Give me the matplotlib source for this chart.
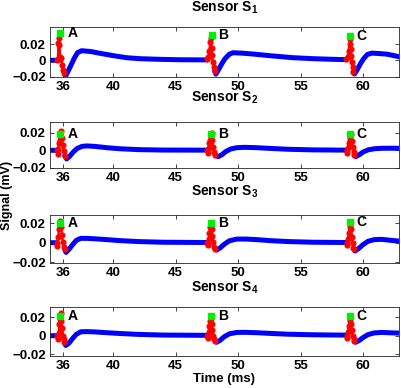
import numpy as np
import matplotlib.pyplot as plt

plt.rcParams['font.family'] = ['Liberation Sans', 'DejaVu Sans']
plt.rcParams['font.weight'] = 'bold'
plt.rcParams['mathtext.fontset'] = 'custom'
plt.rcParams['mathtext.rm'] = 'Liberation Sans:bold'
plt.rcParams['mathtext.bf'] = 'Liberation Sans:bold'

nan = np.nan

# axis setup
TIME_LIM = (34.94, 62.88)
TIME_TICKS = [36, 40, 45, 50, 55, 60]
SIGNAL_TICKS = [-0.02, 0, 0.02]
BEAT_LABELS = ["A", "B", "C"]
LABEL_T = [36.38, 48.41, 59.47]
TITLES = [r"Sensor S$_\mathbf{1}$", r"Sensor S$_\mathbf{2}$",
          r"Sensor S$_\mathbf{3}$", r"Sensor S$_\mathbf{4}$"]
YLIMS = [(-0.0205, 0.0409), (-0.0201, 0.0322), (-0.021, 0.0287), (-0.0217, 0.0307)]

# ---- sensor 1 ----
blue1_t = [34.94, 35.48, nan,
           36.10, 36.18, 36.40, 36.65, 36.90, 37.15, 37.47, 38.20, 38.94, 40.00, 41.07, 42.14, 43.74, 45.34, 47.52, nan,
           48.12, 48.22, 48.45, 48.70, 48.95, 49.30, 49.60, 50.30, 51.20, 52.80, 54.40, 56.00, 57.60, 58.67, nan,
           59.22, 59.32, 59.55, 59.80, 60.05, 60.35, 60.70, 61.30, 61.88, 62.40, 62.88]
blue1_v = [0.0, 0.0, nan,
           -0.016, -0.0198, -0.013, -0.005, 0.003, 0.0095, 0.0118, 0.0108, 0.0086, 0.0057, 0.0032, 0.0020, 0.0012, 0.0007, 0.0005, nan,
           -0.013, -0.017, -0.011, -0.004, 0.002, 0.0075, 0.0093, 0.0088, 0.0077, 0.0053, 0.0032, 0.0020, 0.0012, 0.0008, nan,
           -0.014, -0.0168, -0.011, -0.004, 0.002, 0.0072, 0.0088, 0.0083, 0.0076, 0.0060, 0.0044]
red1_t = [[35.48, 35.58, 35.62, 35.66, 35.70, 35.74, 35.78, 35.84, 35.92, 36.00, 36.10],
          [47.52, 47.62, 47.70, 47.78, 47.84, 47.88, 47.92, 47.98, 48.05, 48.12],
          [58.67, 58.76, 58.84, 58.92, 58.98, 59.02, 59.06, 59.11, 59.16, 59.22]]
red1_v = [[0.0, 0.002, 0.021, 0.027, 0.019, 0.004, 0.001, 0.003, -0.006, -0.012, -0.016],
          [0.001, 0.004, 0.012, 0.022, 0.027, 0.015, 0.006, -0.002, -0.008, -0.013],
          [0.001, 0.004, 0.011, 0.020, 0.026, 0.014, 0.005, -0.002, -0.008, -0.014]]
green1_t = [35.74, 47.87, 58.99]
green1_v = [0.034, 0.031, 0.030]

# ---- sensor 2 ----
blue2_t = [34.94, 35.48, nan,
           36.12, 36.27, 36.50, 36.80, 37.10, 37.50, 37.90, 38.50, 39.50, 40.50, 42.00, 44.00, 47.52, nan,
           48.16, 48.40, 48.70, 49.00, 49.40, 49.90, 50.50, 51.50, 52.50, 54.00, 56.00, 58.68, nan,
           59.30, 59.42, 59.70, 60.00, 60.40, 60.90, 61.50, 62.20, 62.88]
blue2_v = [0.0, 0.0, nan,
           -0.006, -0.0098, -0.007, -0.002, 0.002, 0.0045, 0.005, 0.0045, 0.003, 0.0018, 0.0008, 0.0003, 0.0002, nan,
           -0.005, -0.0072, -0.005, -0.0015, 0.0015, 0.003, 0.0034, 0.003, 0.0022, 0.0012, 0.0005, 0.0002, nan,
           -0.005, -0.0072, -0.005, -0.002, 0.0005, 0.0018, 0.0023, 0.0024, 0.0023]
red2_t = [[35.48, 35.55, 35.60, 35.66, 35.72, 35.78, 35.84, 35.90, 35.96, 36.04, 36.12],
          [47.52, 47.58, 47.64, 47.70, 47.76, 47.82, 47.88, 47.94, 48.00, 48.08, 48.16],
          [58.68, 58.74, 58.80, 58.86, 58.92, 58.98, 59.04, 59.10, 59.16, 59.24, 59.30]]
red2_v = [[0.0, -0.004, 0.002, 0.008, 0.012, 0.016, 0.022, 0.014, 0.006, -0.001, -0.006],
          [0.0, -0.003, 0.003, 0.008, 0.012, 0.016, 0.020, 0.012, 0.004, -0.002, -0.005],
          [0.0, -0.003, 0.003, 0.008, 0.012, 0.015, 0.018, 0.011, 0.004, -0.002, -0.005]]
green2_t = [35.75, 47.82, 58.94]
green2_v = [0.018, 0.019, 0.019]

# ---- sensor 3 ----
blue3_t = [34.94, 35.48, nan,
           36.12, 36.22, 36.45, 36.75, 37.05, 37.40, 37.90, 38.60, 39.50, 40.50, 42.00, 44.00, 47.52, nan,
           48.16, 48.28, 48.55, 48.90, 49.30, 49.90, 50.60, 51.50, 52.50, 54.00, 56.00, 58.68, nan,
           59.28, 59.36, 59.65, 60.00, 60.40, 60.90, 61.50, 62.20, 62.88]
blue3_v = [0.0, 0.0, nan,
           -0.007, -0.010, -0.007, -0.002, 0.0025, 0.0045, 0.0045, 0.004, 0.0032, 0.0022, 0.0012, 0.0005, 0.0002, nan,
           -0.006, -0.0076, -0.0055, -0.0015, 0.002, 0.0038, 0.0038, 0.0032, 0.0022, 0.0012, 0.0005, 0.0002, nan,
           -0.007, -0.0086, -0.006, -0.002, 0.0015, 0.0032, 0.0035, 0.0025, 0.0017]
red3_t = [[35.48, 35.54, 35.60, 35.66, 35.72, 35.78, 35.84, 35.90, 35.96, 36.04, 36.12],
          [47.52, 47.58, 47.64, 47.70, 47.76, 47.82, 47.88, 47.94, 48.00, 48.08, 48.16],
          [58.68, 58.74, 58.80, 58.86, 58.92, 58.98, 59.04, 59.10, 59.16, 59.22, 59.28]]
red3_v = [[0.0, -0.003, 0.006, 0.014, 0.020, 0.0228, 0.016, 0.008, 0.001, -0.004, -0.007],
          [0.0, -0.002, 0.004, 0.010, 0.016, 0.019, 0.014, 0.007, 0.001, -0.004, -0.006],
          [0.0, -0.002, 0.004, 0.010, 0.016, 0.019, 0.014, 0.006, 0.0, -0.005, -0.007]]
green3_t = [35.74, 47.84, 58.98]
green3_v = [0.0207, 0.0207, 0.021]

# ---- sensor 4 ----
blue4_t = [34.94, 35.50, nan,
           36.10, 36.20, 36.45, 36.75, 37.05, 37.40, 37.90, 38.60, 39.50, 40.50, 42.00, 44.00, 47.52, nan,
           48.16, 48.28, 48.55, 48.90, 49.30, 49.90, 50.60, 51.50, 52.50, 54.00, 56.00, 58.68, nan,
           59.30, 59.42, 59.70, 60.00, 60.40, 60.90, 61.50, 62.20, 62.88]
blue4_v = [0.0, 0.0, nan,
           -0.007, -0.0105, -0.008, -0.003, 0.0015, 0.0042, 0.0044, 0.004, 0.0032, 0.0024, 0.0014, 0.0007, 0.0004, nan,
           -0.006, -0.007, -0.005, -0.001, 0.002, 0.0035, 0.0036, 0.0032, 0.0025, 0.0016, 0.001, 0.0006, nan,
           -0.006, -0.007, -0.005, -0.002, 0.0012, 0.003, 0.0035, 0.0031, 0.0028]
red4_t = [[35.50, 35.58, 35.64, 35.70, 35.76, 35.80, 35.86, 35.92, 35.98, 36.04, 36.10],
          [47.52, 47.58, 47.64, 47.70, 47.76, 47.82, 47.88, 47.94, 48.00, 48.08, 48.16],
          [58.68, 58.74, 58.80, 58.86, 58.92, 58.98, 59.04, 59.10, 59.16, 59.24, 59.30]]
red4_v = [[0.0, -0.003, 0.003, 0.012, 0.018, 0.0245, 0.016, 0.008, 0.0, -0.004, -0.007],
          [0.0, -0.002, 0.004, 0.010, 0.016, 0.018, 0.013, 0.006, 0.0, -0.004, -0.006],
          [0.0, -0.002, 0.004, 0.010, 0.016, 0.018, 0.013, 0.006, 0.0, -0.004, -0.006]]
green4_t = [35.74, 47.84, 58.98]
green4_v = [0.0207, 0.021, 0.021]

panels = [
    (blue1_t, blue1_v, red1_t, red1_v, green1_t, green1_v),
    (blue2_t, blue2_v, red2_t, red2_v, green2_t, green2_v),
    (blue3_t, blue3_v, red3_t, red3_v, green3_t, green3_v),
    (blue4_t, blue4_v, red4_t, red4_v, green4_t, green4_v),
]

W, H = 402, 388
fig = plt.figure(figsize=(W / 100, H / 100), dpi=100)

# pixel boxes of the four axes (top, bottom)
boxes = [(27, 77), (122, 168), (215, 263), (307, 356)]
title_base = [12, 102, 196, 292]
left, right = 50, 399

for i, (bt, bv, rt, rv, gt, gv) in enumerate(panels):
    top, bot = boxes[i]
    ax = fig.add_axes([left / W, 1 - bot / H, (right - left) / W, (bot - top) / H])

    ax.plot(bt, bv, color='#0000ff', lw=3.6, solid_capstyle='round', zorder=2)
    for k in range(3):
        ax.plot(rt[k], rv[k], color='#ff0000', lw=1.8, marker='o', ms=3.4,
                mec='#ff0000', zorder=3)
    ax.plot(gt, gv, ls='none', marker='s', ms=4.2, color='#00ee00',
            mec='#00ee00', zorder=4)
    for k in range(3):
        ax.text(LABEL_T[k], gv[k], BEAT_LABELS[k], fontsize=10,
                fontweight='bold', va='center', ha='left', zorder=5)

    ax.set_xlim(*TIME_LIM)
    ax.set_ylim(*YLIMS[i])
    ax.set_xticks(TIME_TICKS)
    ax.set_yticks(SIGNAL_TICKS)
    ax.set_yticklabels(["\u22120.02", "0", "0.02"])
    ax.tick_params(direction='in', length=3, width=0.6, top=True, right=True,
                   labelsize=9.5, pad=3, colors='#262626', labelcolor='black')
    for sp in ax.spines.values():
        sp.set_linewidth(0.6)
        sp.set_color('#262626')

    fig.text((left + right) / 2 / W, 1 - title_base[i] / H, TITLES[i],
             ha='center', va='baseline', fontsize=10, fontweight='bold')

fig.text(7 / W, 1 - 195 / H, "Signal (mV)", rotation=90, ha='center',
         va='center', fontsize=9, fontweight='bold')
fig.text(224 / W, 1 - 379 / H, "Time (ms)", ha='center', va='center',
         fontsize=9.5, fontweight='bold')

fig.savefig("out.png", dpi=100)
